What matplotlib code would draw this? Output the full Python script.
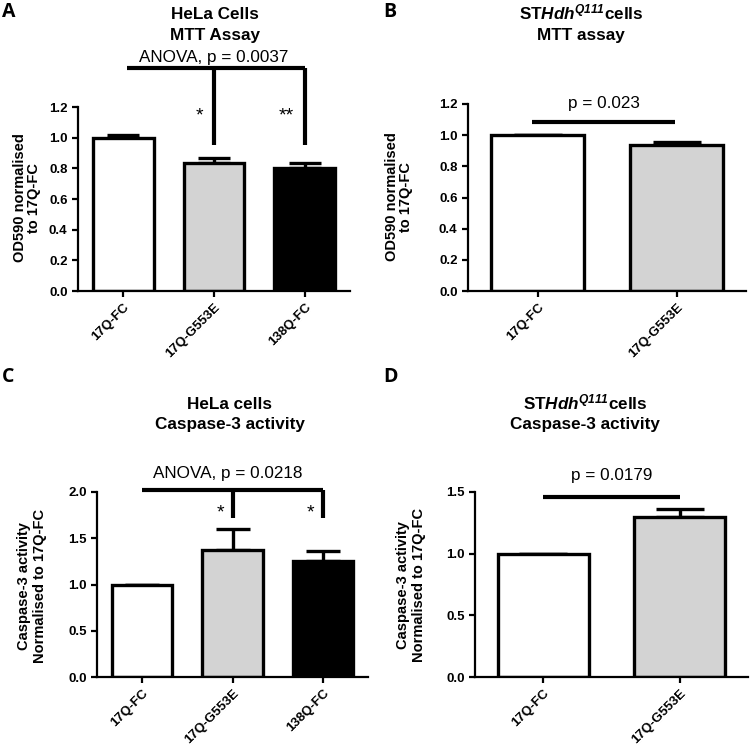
import numpy as np
import matplotlib
matplotlib.use('Agg')
import matplotlib.pyplot as plt

plt.rcParams['font.family'] = ['Liberation Sans', 'DejaVu Sans']
plt.rcParams['mathtext.fontset'] = 'custom'
plt.rcParams['mathtext.rm'] = 'Liberation Sans:bold'
plt.rcParams['mathtext.it'] = 'Liberation Sans:italic:bold'
plt.rcParams['mathtext.sf'] = 'Liberation Sans:italic:bold'
plt.rcParams['mathtext.bf'] = 'Liberation Sans:bold'

# data
groups3 = ['17Q-FC', '17Q-G553E', '138Q-FC']
groups2 = ['17Q-FC', '17Q-G553E']
colors3 = ['white', '#d3d3d3', 'black']
colors2 = ['white', '#d3d3d3']

mtt_hela = [1.0, 0.837, 0.80]
mtt_hela_err = [0.02, 0.03, 0.033]
mtt_sthdh = [1.0, 0.937]
mtt_sthdh_err = [0.0, 0.017]
casp_hela = [1.0, 1.375, 1.25]
casp_hela_err = [0.0, 0.22, 0.11]
casp_sthdh = [1.0, 1.295]
casp_sthdh_err = [0.0, 0.07]

W, H = 750, 748
fig = plt.figure(figsize=(W / 100, H / 100), dpi=100)


def px_axes(left, right, top, bottom):
    return fig.add_axes([left / W, 1 - bottom / H, (right - left) / W, (bottom - top) / H])


def ftext(x, y, s, **kw):
    fig.text(x / W, 1 - y / H, s, **kw)


def bars(ax, labels, vals, errs, cols, ymax, step, capsize):
    x = np.arange(len(labels))
    ax.bar(x, vals, width=0.67, color=cols, edgecolor='black', linewidth=2.4, zorder=2)
    ax.errorbar(x, vals, yerr=[np.zeros(len(errs)), errs], fmt='none', ecolor='black',
                elinewidth=2.4, capthick=2.4, capsize=capsize, zorder=1)
    ax.set_xlim(-0.5, len(labels) - 0.5)
    ax.set_ylim(0, ymax)
    ax.set_yticks(np.arange(0, ymax + 1e-9, step))
    ax.set_yticklabels([f'{v:.1f}' for v in np.arange(0, ymax + 1e-9, step)])
    ax.set_xticks(x)
    ax.set_xticklabels(labels, rotation=45, ha='right', va='top', rotation_mode='anchor')
    for s in ['top', 'right']:
        ax.spines[s].set_visible(False)
    for s in ['left', 'bottom']:
        ax.spines[s].set_linewidth(1.6)
    ax.tick_params(width=1.6, length=4, labelsize=9.5)
    ax.tick_params(axis='x', labelsize=9.5, pad=3.5)
    for lab in ax.get_xticklabels() + ax.get_yticklabels():
        lab.set_fontweight('bold')
    return x


def line(ax, xs, ys):
    ax.plot(xs, ys, color='black', lw=3, clip_on=False, solid_capstyle='butt', solid_joinstyle='miter')


# A
axA = px_axes(78, 350, 107, 291)
bars(axA, groups3, mtt_hela, mtt_hela_err, colors3, 1.2, 0.2, 11.5)
line(axA, [0.04, 2.0], [1.455, 1.455])
line(axA, [1, 1], [1.455, 0.95])
line(axA, [2, 2], [1.455, 0.95])
axA.text(0.835, 1.11, '*', ha='center', va='baseline', fontsize=14)
axA.text(1.80, 1.11, '**', ha='center', va='baseline', fontsize=14)
axA.text(1.0, 1.494, 'ANOVA, p = 0.0037', ha='center', va='baseline', fontsize=12.3)

# B
axB = px_axes(468, 746, 104, 291)
bars(axB, groups2, mtt_sthdh, mtt_sthdh_err, colors2, 1.2, 0.2, 17)
line(axB, [-0.04, 0.99], [1.085, 1.085])
axB.text(0.475, 1.175, 'p = 0.023', ha='center', va='baseline', fontsize=12.3)

# C
axC = px_axes(97, 368, 492, 677)
bars(axC, groups3, casp_hela, casp_hela_err, colors3, 2.0, 0.5, 12)
line(axC, [0.0, 2.0], [2.02, 2.02])
line(axC, [1, 1], [2.02, 1.72])
line(axC, [2, 2], [2.02, 1.72])
axC.text(0.867, 1.72, '*', ha='center', va='baseline', fontsize=14)
axC.text(1.86, 1.72, '*', ha='center', va='baseline', fontsize=14)
axC.text(0.95, 2.15, 'ANOVA, p = 0.0218', ha='center', va='baseline', fontsize=12.3)

# D
axD = px_axes(475, 748, 492, 677)
bars(axD, groups2, casp_sthdh, casp_sthdh_err, colors2, 1.5, 0.5, 17)
line(axD, [0.0, 1.0], [1.46, 1.46])
axD.text(0.5, 1.60, 'p = 0.0179', ha='center', va='baseline', fontsize=12.3)

# titles
tkw = dict(ha='center', va='baseline', fontsize=12.3, fontweight='bold')
sthdh = r'ST$\mathsf{Hdh}^{\mathsf{Q111}}$cells'
ftext(215, 19, 'HeLa Cells', **tkw)
ftext(215, 40, 'MTT Assay', **tkw)
ftext(581, 19, sthdh, **tkw)
ftext(581, 40, 'MTT assay', **tkw)
ftext(230, 409, 'HeLa cells', **tkw)
ftext(230, 429, 'Caspase-3 activity', **tkw)
ftext(585, 409, sthdh, **tkw)
ftext(585, 429, 'Caspase-3 activity', **tkw)

# y labels
ykw = dict(ha='center', va='center', rotation=90, fontsize=10.5, fontweight='bold',
           multialignment='center')
ftext(27, 198, 'OD590 normalised\nto 17Q-FC', linespacing=0.95, **ykw)
ftext(399, 197, 'OD590 normalised\nto 17Q-FC', linespacing=0.95, **ykw)
ftext(32, 586, 'Caspase-3 activity\nNormalised to 17Q-FC', linespacing=1.2, **ykw)
ftext(411, 585, 'Caspase-3 activity\nNormalised to 17Q-FC', linespacing=1.2, **ykw)

# panel letters
pkw = dict(ha='left', va='baseline', fontsize=14, fontweight='bold', family='Open Sans')
ftext(2, 17, 'A', **pkw)
ftext(383, 17, 'B', **pkw)
ftext(2, 382, 'C', **pkw)
ftext(383, 382, 'D', **pkw)

fig.savefig('out.png', dpi=100)
